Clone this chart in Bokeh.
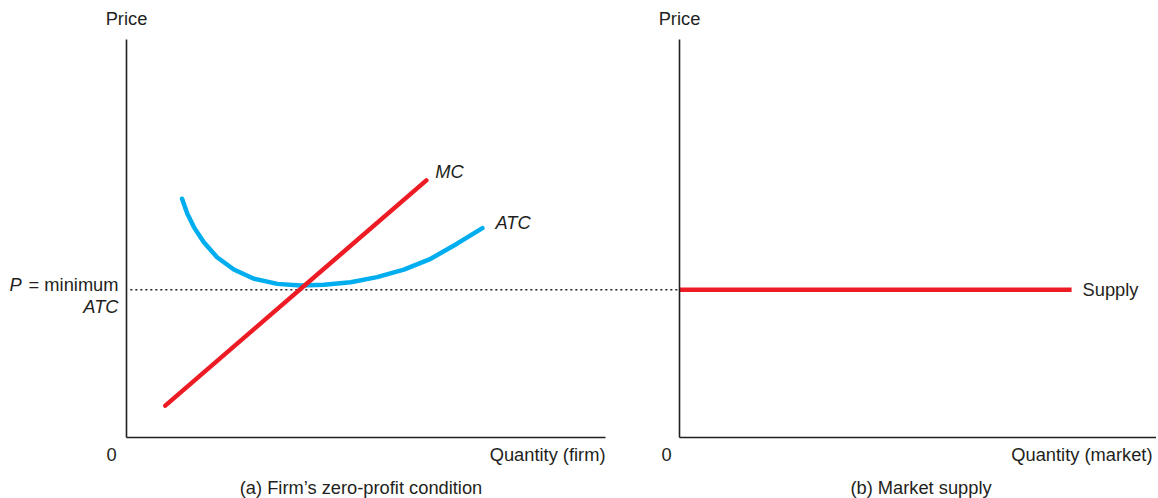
from bokeh.plotting import figure
from bokeh.layouts import row
from bokeh.models import Range1d, Label, FixedTicker, LinearAxis
from bokeh.embed import file_html
from bokeh.resources import INLINE

# ---------------- data ----------------
# Panel (a): firm
mc_q = [0.81, 6.26]
mc_p = [0.80, 6.46]
atc_q = [1.16, 1.27, 1.41, 1.61, 1.89, 2.24, 2.66, 3.15, 3.63, 4.12, 4.68, 5.23,
         5.79, 6.35, 6.90, 7.43]
atc_p = [6.00, 5.62, 5.28, 4.91, 4.53, 4.22, 3.99, 3.86, 3.82, 3.84, 3.90, 4.03,
         4.22, 4.49, 4.87, 5.26]
p_min = 3.71          # P = minimum ATC
firm_q_axis_end = 10.0
# Panel (b): market
market_q_axis_end = 10.0
supply_q = [0.0, 8.22]
supply_p = [p_min, p_min]
price_axis_end = 10.0

# ---------------- style ----------------
FONT = "Liberation Sans"
FS = "18.3px"
TXT = "#231f20"
RED = "#ed1c24"
BLUE = "#00aeef"
SX_L = 47.9   # px per firm-quantity unit
SX_R = 47.7   # px per market-quantity unit
SY = 39.8     # px per price unit
H = 498
RAISE = 6.5   # px: baseline correction for labels


def add_axes(p, xb, yb):
    xa = LinearAxis(fixed_location=0, bounds=xb)
    ya = LinearAxis(fixed_location=0, bounds=yb)
    for ax in (xa, ya):
        ax.ticker = FixedTicker(ticks=[])
        ax.axis_line_color = TXT
        ax.axis_line_width = 1.6
        ax.major_tick_line_color = None
        ax.minor_tick_line_color = None
        ax.major_tick_out = 0
        ax.minor_tick_out = 0
        ax.major_tick_in = 0
        ax.minor_tick_in = 0
        ax.major_label_standoff = 0
        ax.major_label_text_font_size = "0px"
    p.add_layout(xa, "below")
    p.add_layout(ya, "left")
    p.grid.visible = False


def lab(p, x, y, text, align="left", italic=False):
    p.add_layout(Label(x=x, y=y + RAISE / SY, text=text, text_align=align,
                       text_baseline="alphabetic",
                       text_font=FONT, text_font_size=FS, text_color=TXT,
                       text_font_style="italic" if italic else "normal"))


common = dict(height=H, output_backend="svg", toolbar_location=None,
              x_axis_location=None, y_axis_location=None,
              min_border_left=0, min_border_right=0, min_border_top=0, min_border_bottom=0,
              background_fill_color=None, border_fill_color=None, outline_line_color=None)
y_rng = (-(H - 437) / SY, 437 / SY)

# ---------------- left panel ----------------
WL = 679
left = figure(width=WL, x_range=Range1d(-126 / SX_L, (WL - 126) / SX_L),
              y_range=Range1d(*y_rng), **common)
add_axes(left, (0, firm_q_axis_end), (0, price_axis_end))

left.line([0.08, left.x_range.end], [p_min, p_min], line_color=TXT, line_width=1.5,
          line_dash="2 3")
left.line(atc_q, atc_p, line_color=BLUE, line_width=4.5, line_cap="round", line_join="round")
left.line(mc_q, mc_p, line_color=RED, line_width=4.5, line_cap="round")

lab(left, 0, price_axis_end + 15 / SY, "Price", "center")
lab(left, -15 / SX_L, -23 / SY, "0", "center")
lab(left, firm_q_axis_end, -23 / SY, "Quantity (firm)", "right")
lab(left, 4.896, -56 / SY, "(a) Firm\u2019s zero-profit condition", "center")
lab(left, -117 / SX_L, p_min - 1.3 / SY, "P", "left", italic=True)
lab(left, -8 / SX_L, p_min - 1.3 / SY, "= minimum", "right")
lab(left, -8 / SX_L, p_min - 23.5 / SY, "ATC", "right", italic=True)
lab(left, mc_q[-1] + 9 / SX_L, mc_p[-1] + 2 / SY, "MC", "left", italic=True)
lab(left, atc_q[-1] + 13 / SX_L, atc_p[-1] - 1 / SY, "ATC", "left", italic=True)

# ---------------- right panel ----------------
OV = 40
WR = 1156 - 679 + OV
right = figure(width=WR, x_range=Range1d(-OV / SX_R, (WR - OV) / SX_R),
               y_range=Range1d(*y_rng), styles={"margin-left": f"-{OV}px"}, **common)
add_axes(right, (0, market_q_axis_end), (0, price_axis_end))

right.line(supply_q, supply_p, line_color=RED, line_width=4.5, line_cap="butt")

lab(right, 0, price_axis_end + 15 / SY, "Price", "center")
lab(right, -13 / SX_R, -23 / SY, "0", "center")
lab(right, 9.916, -23 / SY, "Quantity (market)", "right")
lab(right, 5.063, -56 / SY, "(b) Market supply", "center")
lab(right, supply_q[-1] + 11 / SX_R, p_min - 6.5 / SY, "Supply", "left")

layout = row(left, right)
open("out.html", "w").write(file_html(layout, INLINE))
